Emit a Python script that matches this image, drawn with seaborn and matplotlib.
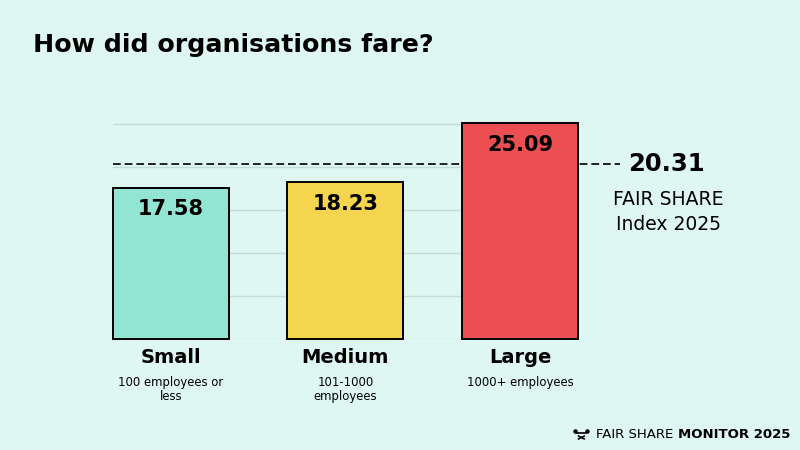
import matplotlib
matplotlib.use("Agg")
import matplotlib.pyplot as plt
from matplotlib.lines import Line2D
import seaborn as sns
import pandas as pd

# data
categories = ["Small", "Medium", "Large"]
sublabels = ["100 employees or\nless", "101-1000\nemployees", "1000+ employees"]
scores = [17.58, 18.23, 25.09]
index_2025 = 20.31

BG = "#DEF7F2"
colors = ["#93E5D3", "#F5D44E", "#EB4F52"]

sns.set_theme(style="white")
plt.rcParams["font.family"] = ["DejaVu Sans"]
plt.rcParams["text.color"] = "black"

df = pd.DataFrame({"size": categories, "score": scores})

fig = plt.figure(figsize=(8, 4.5), dpi=100, facecolor=BG)
ax = fig.add_axes([0.141, 0.2467, 0.5815, 0.48])
ax.set_facecolor(BG)

sns.barplot(data=df, x="size", y="score", hue="size", palette=colors,
            width=0.665, edgecolor="black", linewidth=1.4, saturation=1,
            legend=False, ax=ax, zorder=3)
for p in ax.patches:
    p.set_clip_on(False)

ax.set_xlim(-0.3325, 2.3325)
ax.set_ylim(0, 25.1)
ax.set_yticks([0, 5, 10, 15, 20, 25])
ax.yaxis.grid(True, color="#C3DDD7", linewidth=1, zorder=0)
ax.set_axisbelow(True)
ax.tick_params(left=False, bottom=False, labelleft=False, labelbottom=False)
for s in ax.spines.values():
    s.set_visible(False)
ax.set_xlabel("")
ax.set_ylabel("")

# value labels inside bars
for i, v in enumerate(scores):
    ax.annotate(f"{v:.2f}", (i, v), xytext=(0, -15.5), textcoords="offset points",
                ha="center", va="center", fontsize=15, fontweight="bold",
                color="black", zorder=5)

# category labels below
for i, (c, sub) in enumerate(zip(categories, sublabels)):
    ax.annotate(c, (i, 0), xytext=(0, -13), textcoords="offset points",
                ha="center", va="center", fontsize=14, fontweight="bold",
                color="black", annotation_clip=False)
    ax.annotate(sub, (i, 0), xytext=(0, -26.5), textcoords="offset points",
                ha="center", va="top", fontsize=8.4, linespacing=1.15,
                color="black", annotation_clip=False)

# fair share index line
tr = ax.get_yaxis_transform()
ax.plot([0, 1.09], [index_2025, index_2025], transform=tr, clip_on=False,
        color="#222222", linewidth=1.4, linestyle=(0, (4, 2)), zorder=2)
ax.text(1.107, index_2025, f"{index_2025:.2f}", transform=tr, ha="left",
        va="center", fontsize=17.5, fontweight="bold", color="black")
fig.text(668 / 800, 1 - 199 / 450, "FAIR SHARE", ha="center", va="center",
         fontsize=13.5, color="black")
fig.text(668 / 800, 1 - 224 / 450, "Index 2025", ha="center", va="center",
         fontsize=13.5, color="black")

# title
fig.text(33 / 800, 1 - 45 / 450, "How did organisations fare?", ha="left",
         va="center", fontsize=18.2, fontweight="bold", color="black")

# footer
fig.canvas.draw()
r = fig.canvas.get_renderer()
t_bold = fig.text(790 / 800, 1 - 435 / 450, "MONITOR 2025", ha="right",
                  va="center", fontsize=9.5, fontweight="bold", color="black")
bb = t_bold.get_window_extent(renderer=r)
t_reg = fig.text((bb.x0 - 4) / 800, 1 - 435 / 450, "FAIR SHARE", ha="right",
                 va="center", fontsize=9.5, color="black")
bb2 = t_reg.get_window_extent(renderer=r)
# small logo mark
x1 = bb2.x0 - 8
y0 = 450 - 435
fig.add_artist(Line2D([(x1 - 12) / 800, (x1 - 2) / 800], [(y0 + 2) / 450, (y0 + 2) / 450],
                      color="black", linewidth=1.2))
fig.add_artist(Line2D([(x1 - 10) / 800, (x1 - 4) / 800], [(y0 - 4) / 450, (y0 - 1) / 450],
                      color="black", linewidth=1.2))
fig.add_artist(Line2D([(x1 - 10) / 800, (x1 - 4) / 800], [(y0 - 1) / 450, (y0 - 4) / 450],
                      color="black", linewidth=1.2))
fig.add_artist(Line2D([(x1 - 13) / 800, (x1 - 1) / 800], [(y0 + 4) / 450, (y0 + 4) / 450],
                      color="black", linewidth=0, marker="o", markersize=2.2,
                      markevery=[0, 1]))

fig.savefig("out.png", dpi=100, facecolor=BG)
